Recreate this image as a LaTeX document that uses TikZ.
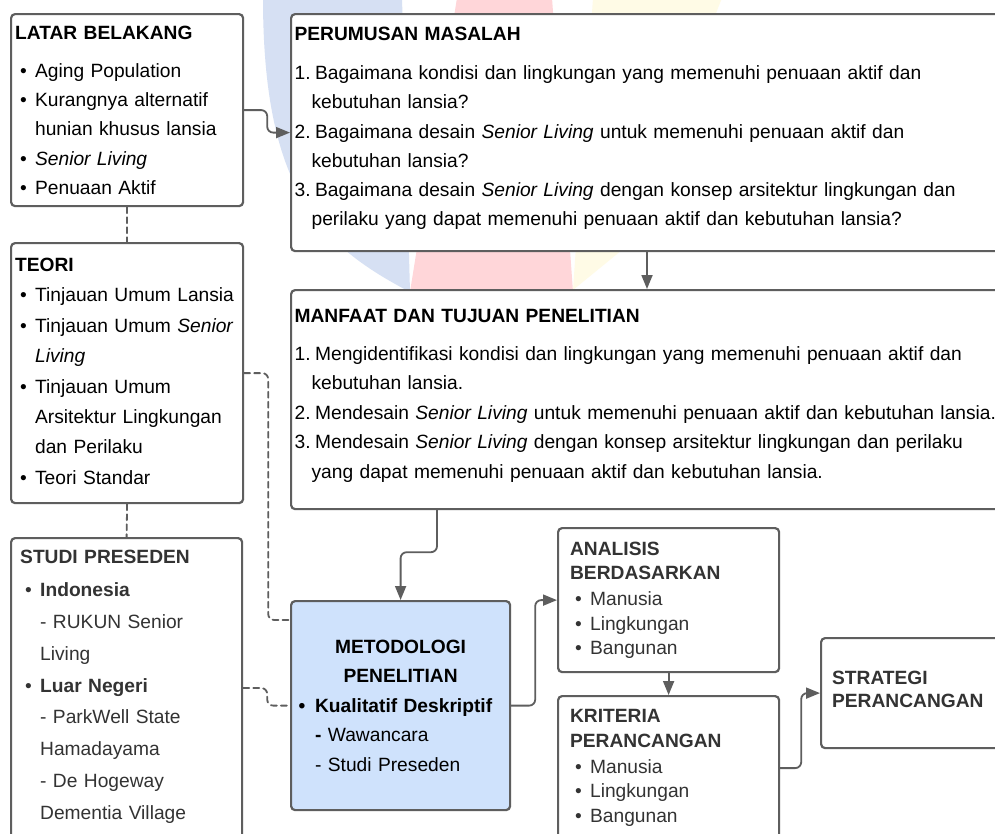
\documentclass[tikz,border=0pt]{standalone}
\usepackage{fontspec}
\setmainfont{Liberation Sans}
\usetikzlibrary{arrows.meta}
\definecolor{linegray}{RGB}{94,94,94}
\definecolor{txtgray}{RGB}{51,51,51}
\definecolor{metoblue}{RGB}{207,226,252}
\definecolor{wmblue}{RGB}{214,224,243}
\definecolor{wmpink}{RGB}{255,214,217}
\definecolor{wmyellow}{RGB}{255,251,230}
\hyphenpenalty=10000
\exhyphenpenalty=10000
\begin{document}
\begin{tikzpicture}[x=1pt, y=-1pt, line join=round, line cap=round, >={Triangle[length=14pt,width=11pt]},
  box/.style={draw=linegray, line width=2.2pt, rounded corners=4pt, fill=white, anchor=north west, inner ysep=0pt, align=left},
  txt/.style={font=\fontsize{19.2pt}{#1}\selectfont},
  conn/.style={draw=linegray, line width=1.8pt, rounded corners=6pt},
  link/.style={conn, dash pattern=on 6pt off 4pt}]
\def\bl{\hspace*{5pt}\makebox[15pt][l]{•}}
\def\ct{\hspace*{20pt}}
\def\nm#1{\makebox[20.5pt][l]{#1.}}
\def\nc{\hspace*{17pt}}
\def\lift#1{\rule[-#1]{0pt}{#1}}
\fill[white] (0,0) rectangle (995,833);
\useasboundingbox (0,0) rectangle (995,833);
% faint logo behind the boxes
\fill[wmblue] (263,-2) .. controls (263,190) and (320,245) .. (410,292) -- (402,-2) -- cycle;
\fill[wmpink] (457,-2) -- (552,-2) -- (573,292) -- (410,292) -- cycle;
\fill[wmyellow] (593,-2) -- (722,-2) -- (622,250) -- (573,290) -- cycle;
% boxes
\node[box, txt=29.3pt, minimum height=192pt, text width=224pt, inner xsep=4pt] (latar) at (10,13)
  {\textbf{LATAR BELAKANG}\\[8.7pt]
   \bl Aging Population\\
   \bl Kurangnya alternatif\\
   \ct hunian khusus lansia\\
   \bl \textit{Senior Living}\\
   \bl Penuaan Aktif};
\node[box, txt=29.3pt, minimum height=237pt, text width=760pt, inner xsep=3.5pt] (perumusan) at (290,13)
  {\textbf{PERUMUSAN MASALAH}\\[9.5pt]
   \nm1Bagaimana kondisi dan lingkungan yang memenuhi penuaan aktif dan\\
   \nc kebutuhan lansia?\\
   \nm2Bagaimana desain \textit{Senior Living} untuk memenuhi penuaan aktif dan\\
   \nc kebutuhan lansia?\\
   \nm3Bagaimana desain \textit{Senior Living} dengan konsep arsitektur lingkungan dan\\
   \nc perilaku yang dapat memenuhi penuaan aktif dan kebutuhan lansia?\lift{12pt}};
\node[box, txt=30.4pt, minimum height=260pt, text width=224pt, inner xsep=4pt] (teori) at (10,242)
  {\textbf{TEORI}\\
   \bl Tinjauan Umum Lansia\\
   \bl Tinjauan Umum \textit{Senior}\\
   \ct \textit{Living}\\
   \bl Tinjauan Umum\\
   \ct Arsitektur Lingkungan\\
   \ct dan Perilaku\\
   \bl Teori Standar\lift{4pt}};
\node[box, txt=29.5pt, minimum height=219pt, text width=760pt, inner xsep=3.5pt] (manfaat) at (290,289)
  {\textbf{MANFAAT DAN TUJUAN PENELITIAN}\\[8.5pt]
   \nm1Mengidentifikasi kondisi dan lingkungan yang memenuhi penuaan aktif dan\\
   \nc kebutuhan lansia.\\
   \nm2Mendesain \textit{Senior Living} untuk memenuhi penuaan aktif dan kebutuhan lansia.\\
   \nm3Mendesain \textit{Senior Living} dengan konsep arsitektur lingkungan dan perilaku\\
   \nc yang dapat memenuhi penuaan aktif dan kebutuhan lansia.\lift{12pt}};
\node[box, minimum width=231pt, minimum height=313pt] (studi) at (10,537) {};
\node[anchor=north west, inner sep=0pt, align=left, text width=215pt, txt=31.8pt, text=txtgray] (studitxt)
  at ([xshift=10pt,yshift=-13pt]studi.north west)
  {\textbf{STUDI PRESEDEN}\\[1.2pt]
   \bl \textbf{Indonesia}\\
   \ct - RUKUN Senior\\
   \ct Living\\
   \bl \textbf{Luar Negeri}\\
   \ct - ParkWell State\\
   \ct Hamadayama\\
   \ct - De Hogeway\\
   \ct Dementia Village};
\node[box, fill=metoblue, txt=29.5pt, minimum height=209pt, text width=207pt, inner xsep=6pt] (metodologi) at (290,600)
  {\makebox[207pt]{\textbf{METODOLOGI}}\\
   \makebox[207pt]{\textbf{PENELITIAN}}\\
   \hspace*{1.5pt}\makebox[16.5pt][l]{\textbf{•}}\textbf{Kualitatif Deskriptif}\\
   \hspace*{18pt}\textbf{-} Wawancara\\
   \hspace*{18pt}- Studi Preseden};
\node[box, txt=24.5pt, text=txtgray, minimum height=144pt, text width=197pt, inner xsep=12pt] (analisis) at (557,527)
  {\textbf{ANALISIS}\\
   \textbf{BERDASARKAN}\\[1.5pt]
   \bl Manusia\\
   \bl Lingkungan\\
   \bl Bangunan};
\node[box, txt=24.5pt, text=txtgray, minimum height=144pt, text width=197pt, inner xsep=12pt] (kriteria) at (557,695)
  {\textbf{KRITERIA}\\
   \textbf{PERANCANGAN}\\[1.5pt]
   \bl Manusia\\
   \bl Lingkungan\\
   \bl Bangunan};
\node[box, txt=23.5pt, text=txtgray, minimum height=110pt, text width=178pt, inner xsep=11pt] (strategi) at (820,637)
  {\textbf{STRATEGI}\\
   \textbf{PERANCANGAN}\lift{8pt}};
% connectors
\draw[conn,->] (latar.east) -- ++(23,0) |- (perumusan.west);
\draw[link] (latar.south) -- (teori.north);
\draw[link] (teori.south) -- (studi.north);
\draw[conn,->] ([xshift=357pt]perumusan.south west) -- ([xshift=357pt]manfaat.north west);
\draw[conn,->] ([xshift=147pt]manfaat.south west) -- ++(0,42) -| (metodologi.north);
\draw[link] (teori.east) -- ++(24,0) |- ([yshift=-20pt]metodologi.north west);
\draw[link] ([yshift=-151pt]studi.north east) -- ++(24,0) |- (metodologi.west);
\draw[conn,->] (metodologi.east) -- ++(24,0) |- (analisis.west);
\draw[conn,->] (analisis.south) -- (kriteria.north);
\draw[conn,->] (kriteria.east) -- ++(21,0) |- (strategi.west);
\end{tikzpicture}
\end{document}
